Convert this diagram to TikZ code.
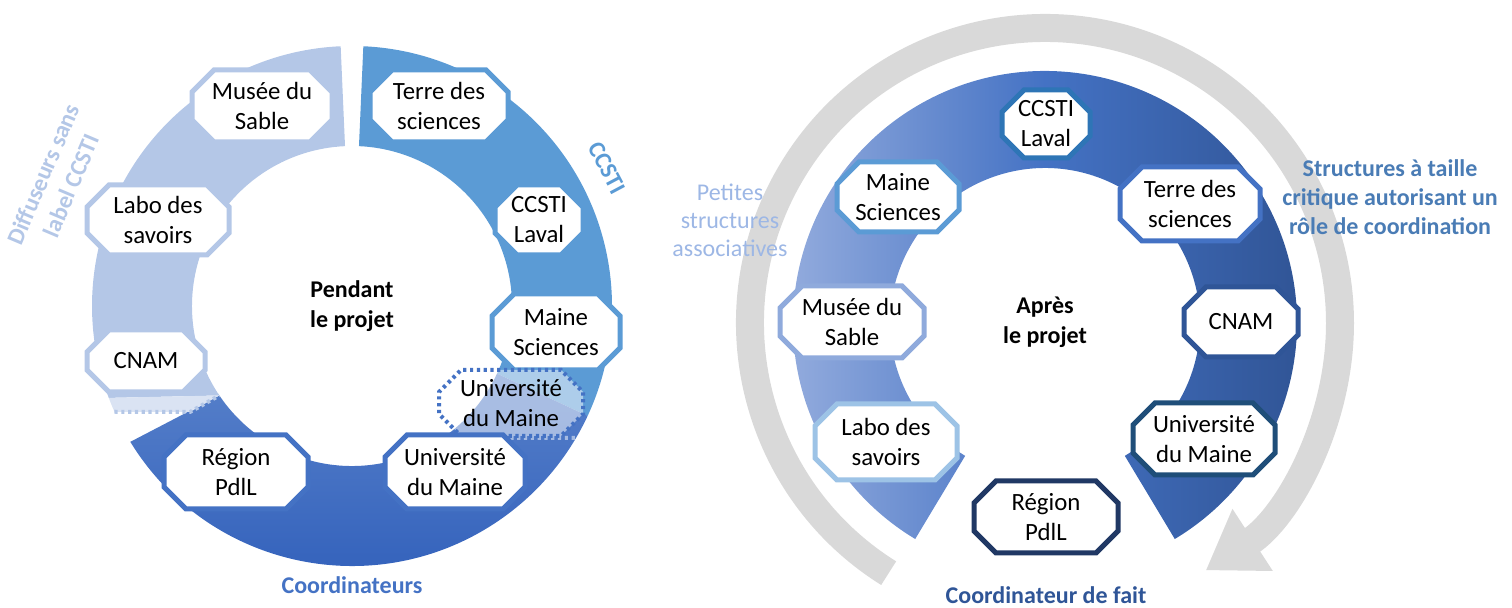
\documentclass[tikz,border=0pt]{standalone}
\usepackage{fontspec}
\setmainfont{Carlito}
\usetikzlibrary{calc,arrows.meta}
\definecolor{diffcol}{HTML}{B4C7E7}
\definecolor{ccsticol}{HTML}{5B9BD5}
\definecolor{coordcol}{HTML}{4472C4}
\definecolor{coorddark}{HTML}{2F5EBA}
\definecolor{greycol}{HTML}{D9D9D9}
\definecolor{petitcol}{HTML}{9DB7E5}
\definecolor{critcol}{HTML}{4A7CB5}
\definecolor{faitcol}{HTML}{2F5597}
\definecolor{lavalcol}{HTML}{2E75B6}
\definecolor{musecol}{HTML}{8FAADC}
\definecolor{labocol}{HTML}{9DC3E6}
\definecolor{univcol}{HTML}{1F4E79}
\definecolor{regioncol}{HTML}{203864}
\definecolor{horseleft}{HTML}{9CB2E0}
\definecolor{horseright}{HTML}{2E5190}
% octagon = rectangle with cut corners
\newdimen\octxa \newdimen\octya \newdimen\octxb \newdimen\octyb
\def\octcut{11pt}
\makeatletter
\pgfdeclareshape{octbox}{%
    \inheritsavedanchors[from=rectangle]%
    \inheritanchorborder[from=rectangle]%
    \inheritanchor[from=rectangle]{center}%
    \inheritanchor[from=rectangle]{north}%
    \inheritanchor[from=rectangle]{south}%
    \inheritanchor[from=rectangle]{east}%
    \inheritanchor[from=rectangle]{west}%
    \inheritanchor[from=rectangle]{north east}%
    \inheritanchor[from=rectangle]{north west}%
    \inheritanchor[from=rectangle]{south east}%
    \inheritanchor[from=rectangle]{south west}%
    \backgroundpath{%
        \southwest \octxa=\pgf@x \octya=\pgf@y
        \northeast \octxb=\pgf@x \octyb=\pgf@y
        \pgfpathmoveto{\pgfpoint{\octxa+\octcut}{\octya}}%
        \pgfpathlineto{\pgfpoint{\octxb-\octcut}{\octya}}%
        \pgfpathlineto{\pgfpoint{\octxb}{\octya+\octcut}}%
        \pgfpathlineto{\pgfpoint{\octxb}{\octyb-\octcut}}%
        \pgfpathlineto{\pgfpoint{\octxb-\octcut}{\octyb}}%
        \pgfpathlineto{\pgfpoint{\octxa+\octcut}{\octyb}}%
        \pgfpathlineto{\pgfpoint{\octxa}{\octyb-\octcut}}%
        \pgfpathlineto{\pgfpoint{\octxa}{\octya+\octcut}}%
        \pgfpathclose
    }%
}
\makeatother
\tikzset{
    octo/.style={octbox, fill=white, line width=2.5pt, outer sep=0pt,
        inner sep=0pt, align=center, font=\fontsize{12.4}{15}\selectfont},
    lab/.style={align=center, font=\bfseries\fontsize{12}{15}\selectfont},
}
\begin{document}
\begin{tikzpicture}[x=0.5pt, y=0.5pt]
    \useasboundingbox (0, 0) rectangle (1512, -608);
    % pendant le projet
    \coordinate (C1) at (352, -306);
    \fill[diffcol] ($(C1)+(92.5:260)$) arc[start angle=92.5, end angle=200.7, radius=260]
        -- ($(C1)+(214:160)$) arc[start angle=214, end angle=92.5, radius=160] -- cycle;
    \fill[ccsticol] ($(C1)+(87.5:260)$) arc[start angle=87.5, end angle=-25, radius=260]
        -- ($(C1)+(-25:160)$) arc[start angle=-25, end angle=87.5, radius=160] -- cycle;
    \shade[top color=coordcol!90!white, bottom color=coorddark]
        ($(C1)+(211.5:260)$) arc[start angle=211.5, end angle=335, radius=260]
        -- ($(C1)+(335:160)$) arc[start angle=335, end angle=214, radius=160] -- cycle;
    \fill[diffcol!50] ($(C1)+(200.7:260)$) arc[start angle=200.7, end angle=204, radius=260]
        -- (190, -412) -- ($(C1)+(214:160)$) -- cycle;
    \draw[diffcol, line width=2pt, dash pattern=on 1.6pt off 1.8pt]
        ($(C1)+(204:260)$) -- (190, -412) -- ($(C1)+(214:160)$);
    \draw[white, opacity=0.5, line width=2pt, dash pattern=on 1.6pt off 1.8pt]
        ($(C1)+(-55.6:160)$) -- ($(C1)+(-30.5:260)$);
    % apres le projet
    \coordinate (C2) at (1045, -323);
    \draw[greycol, line width=14pt, -{Triangle[length=28pt, width=35pt]}]
        ($(C2)+(238:295)$) arc[start angle=238, end angle=-57, radius=295];
    \shade[left color=horseleft, right color=horseright, middle color=coordcol]
        ($(C2)+(-59:252)$) arc[start angle=-59, end angle=239, radius=252]
        -- ($(C2)+(239:155)$) arc[start angle=239, end angle=-59, radius=155] -- cycle;

    \node[octo, draw=diffcol, minimum width=70pt, minimum height=36pt] (musee1) at (262, -106) {Musée du\\Sable};
    \node[octo, draw=ccsticol, minimum width=69pt, minimum height=36pt] (terre1) at (439, -106) {Terre des\\sciences};
    \node[octo, draw=ccsticol, minimum width=44pt, minimum height=35pt] (ccsti1) at (539, -220) {CCSTI\\Laval};
    \node[octo, draw=diffcol, minimum width=71pt, minimum height=35pt] (labo1) at (158, -220) {Labo des\\savoirs};
    \node[octo, draw=ccsticol, minimum width=64pt, minimum height=38pt] (maine1) at (556, -332) {Maine\\Sciences};
    \node[octo, draw=diffcol, minimum width=59pt, minimum height=31pt] (cnam1) at (146, -361) {CNAM};
    \node[octo, draw=coordcol, fill opacity=0.5, text opacity=1, line width=2pt,
        dash pattern=on 1.6pt off 1.8pt, minimum width=72pt, minimum height=33pt]
        (univa1) at (511, -403) {Université\\du Maine};
    \node[octo, draw=coordcol, minimum width=70pt, minimum height=37pt] (univ1) at (455, -472) {Université\\du Maine};
    \node[octo, draw=coordcol, minimum width=72pt, minimum height=37pt] (region1) at (236, -472) {Région\\PdlL};

    \node[octo, draw=lavalcol, minimum width=44pt, minimum height=34pt] (ccsti2) at (1046, -124) {CCSTI\\Laval};
    \node[octo, draw=ccsticol, minimum width=61pt, minimum height=35pt] (maine2) at (898, -197) {Maine\\Sciences};
    \node[octo, draw=coordcol, minimum width=70pt, minimum height=37pt] (terre2) at (1190, -204) {Terre des\\sciences};
    \node[octo, draw=musecol, minimum width=72pt, minimum height=36pt] (musee2) at (852, -322) {Musée du\\Sable};
    \node[octo, draw=faitcol, minimum width=57pt, minimum height=35pt] (cnam2) at (1241, -322) {CNAM};
    \node[octo, draw=labocol, minimum width=71pt, minimum height=38pt] (labo2) at (886, -442) {Labo des\\savoirs};
    \node[octo, draw=univcol, minimum width=71pt, minimum height=36pt] (univ2) at (1204, -439) {Université\\du Maine};
    \node[octo, draw=regioncol, minimum width=72pt, minimum height=36pt] (region2) at (1046, -517) {Région\\PdlL};

    \node[lab] (pendant) at (352, -306) {Pendant\\le projet};
    \node[lab] (apres) at (1045, -322) {Après\\le projet};
    \node[lab, diffcol, rotate=67] (diffuseurs) at (57, -180) {Diffuseurs sans\\label CCSTI};
    \node[lab, ccsticol, rotate=-62] (ccstilab) at (607, -168) {CCSTI};
    \node[lab, coordcol] (coord) at (352, -585) {Coordinateurs};
    \node[align=center, petitcol, font=\fontsize{12}{14}\selectfont] (petites) at (730, -220) {Petites\\structures\\associatives};
    \node[lab, critcol, font=\bfseries\fontsize{12}{14.5}\selectfont] (critique) at (1390, -197) {Structures à taille\\critique autorisant un\\rôle de coordination};
    \node[lab, faitcol] (fait) at (1046, -595) {Coordinateur de fait};
\end{tikzpicture}
\end{document}
